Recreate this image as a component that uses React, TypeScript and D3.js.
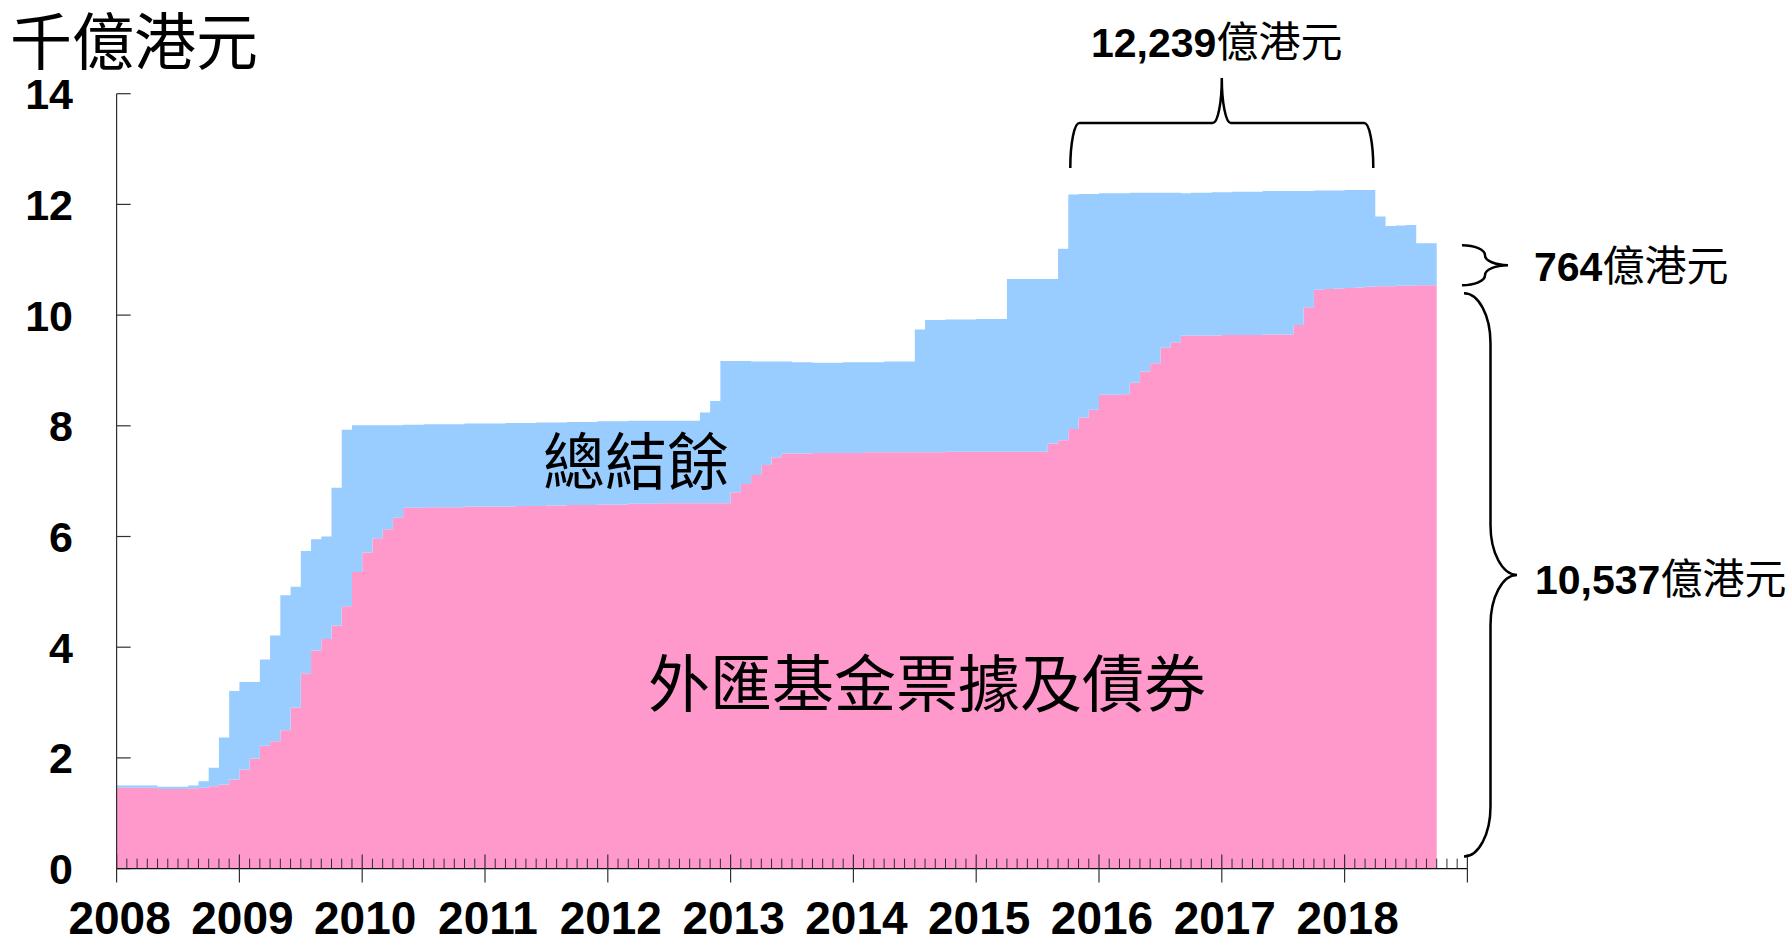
import React from 'react';
import * as d3 from 'd3';

// ---------------- DATA ----------------
// Monthly, Jan 2008 – Sep 2018, HK$ thousand billion (千億港元)
const firstYear = 2008;
const lastYear = 2019;
const yearLabels = ['2008', '2009', '2010', '2011', '2012', '2013', '2014', '2015', '2016', '2017', '2018'];
const yTickValues = [0, 2, 4, 6, 8, 10, 12, 14];

// 外匯基金票據及債券 (Exchange Fund Bills and Notes)
const efbn = [
  1.46, 1.46, 1.46, 1.46, 1.44, 1.44, 1.44, 1.45, 1.46, 1.49, 1.52, 1.61,
  1.79, 1.99, 2.22, 2.30, 2.50, 2.91, 3.53, 3.94, 4.15, 4.39, 4.74, 5.36,
  5.71, 5.97, 6.13, 6.34, 6.52, 6.52, 6.53, 6.53, 6.53, 6.53, 6.54, 6.54,
  6.54, 6.54, 6.54, 6.55, 6.55, 6.55, 6.56, 6.56, 6.57, 6.57, 6.57, 6.58,
  6.58, 6.58, 6.59, 6.59, 6.59, 6.60, 6.60, 6.60, 6.60, 6.60, 6.60, 6.60,
  6.80, 6.95, 7.11, 7.29, 7.43, 7.50, 7.50, 7.50, 7.51, 7.51, 7.51, 7.51,
  7.51, 7.52, 7.52, 7.52, 7.52, 7.52, 7.52, 7.52, 7.52, 7.53, 7.53, 7.53,
  7.53, 7.53, 7.53, 7.53, 7.53, 7.53, 7.53, 7.68, 7.74, 7.94, 8.15, 8.29,
  8.56, 8.56, 8.57, 8.78, 8.98, 9.13, 9.41, 9.51, 9.63, 9.63, 9.63, 9.63,
  9.64, 9.64, 9.64, 9.64, 9.65, 9.65, 9.65, 9.82, 10.14, 10.46, 10.47, 10.48,
  10.49, 10.50, 10.51, 10.52, 10.52, 10.53, 10.53, 10.54, 10.54,
];

// 總結餘 (Aggregate Balance)
const aggregateBalance = [
  0.04, 0.04, 0.04, 0.04, 0.04, 0.04, 0.04, 0.05, 0.12, 0.33, 0.85, 1.60,
  1.58, 1.38, 1.56, 1.91, 2.44, 2.18, 2.21, 2.01, 1.85, 2.49, 3.19, 2.65,
  2.30, 2.04, 1.88, 1.67, 1.50, 1.50, 1.50, 1.50, 1.50, 1.50, 1.50, 1.50,
  1.50, 1.50, 1.51, 1.50, 1.50, 1.51, 1.50, 1.50, 1.50, 1.50, 1.50, 1.50,
  1.50, 1.50, 1.50, 1.50, 1.50, 1.49, 1.49, 1.49, 1.49, 1.64, 1.85, 2.57,
  2.37, 2.22, 2.05, 1.87, 1.73, 1.66, 1.65, 1.65, 1.63, 1.63, 1.63, 1.64,
  1.64, 1.63, 1.63, 1.64, 1.64, 1.64, 2.22, 2.39, 2.39, 2.39, 2.39, 2.39,
  2.40, 2.40, 2.40, 3.12, 3.12, 3.12, 3.12, 2.97, 3.46, 4.24, 4.04, 3.90,
  3.64, 3.64, 3.63, 3.43, 3.23, 3.08, 2.80, 2.70, 2.57, 2.58, 2.58, 2.59,
  2.58, 2.59, 2.59, 2.59, 2.59, 2.59, 2.59, 2.42, 2.10, 1.79, 1.78, 1.77,
  1.77, 1.76, 1.75, 1.26, 1.09, 1.09, 1.10, 0.76, 0.76,
];

// annotation texts
const unitLabel = '千億港元';
const abLabel = '總結餘';
const efbnLabel = '外匯基金票據及債券';
const peakNumber = '12,239';
const abNowNumber = '764';
const efbnNowNumber = '10,537';
const unitSuffix = '億港元';
const peakStartMonth = 93; // Oct 2015
const peakEndMonth = 123; // Apr 2018

// ---------------- STYLE / LAYOUT ----------------
const W = 1792;
const H = 943;
const PINK = '#FF99CC';
const BLUE = '#99CCFF';
const AXIS = '#303030';
const LATIN = '"Liberation Sans", Arial, sans-serif';
const CJK = '"Noto Sans CJK TC", "Noto Sans CJK SC", sans-serif';

const plotLeft = 116.6;
const plotRight = 1467.4;
const plotTop = 93.7;
const plotBottom = 868.6;

function braceRight(x0: number, yTop: number, yBot: number, w: number, a: number) {
  const xm = x0 + w / 2;
  const xt = x0 + w;
  const ym = (yTop + yBot) / 2;
  const rx = w / 2;
  return [
    `M${x0},${yTop}`,
    `A${rx},${a} 0 0 1 ${xm},${yTop + a}`,
    `L${xm},${ym - a}`,
    `A${rx},${a} 0 0 0 ${xt},${ym}`,
    `A${rx},${a} 0 0 0 ${xm},${ym + a}`,
    `L${xm},${yBot - a}`,
    `A${rx},${a} 0 0 1 ${x0},${yBot}`,
  ].join(' ');
}

function braceUp(xL: number, xR: number, yBase: number, h: number, a: number) {
  const xc = (xL + xR) / 2;
  const ym = yBase - h / 2;
  const yt = yBase - h;
  const ry = h / 2;
  return [
    `M${xL},${yBase}`,
    `A${a},${ry} 0 0 1 ${xL + a},${ym}`,
    `L${xc - a},${ym}`,
    `A${a},${ry} 0 0 0 ${xc},${yt}`,
    `A${a},${ry} 0 0 0 ${xc + a},${ym}`,
    `L${xR - a},${ym}`,
    `A${a},${ry} 0 0 1 ${xR},${yBase}`,
  ].join(' ');
}

export default function App() {
  const totalMonths = (lastYear - firstYear) * 12;
  const x = d3.scaleLinear().domain([0, totalMonths]).range([plotLeft, plotRight]);
  const y = d3.scaleLinear().domain([0, 14]).range([plotBottom, plotTop]);

  const rows = efbn.map((v, i) => ({ m: i, efbn: v, ab: aggregateBalance[i] }));
  // closing point so the last month step has width
  const last = rows[rows.length - 1];
  const rowsExt = [...rows, { m: rows.length, efbn: last.efbn, ab: last.ab }];

  const stack = d3.stack<any>().keys(['efbn', 'ab']);
  const series = stack(rowsExt as any);

  const area = d3
    .area<any>()
    .curve(d3.curveStepAfter)
    .x((d: any) => x(d.data.m))
    .y0((d: any) => y(d[0]))
    .y1((d: any) => y(d[1]));

  const colors = [PINK, BLUE];

  const yearTicks = d3.range(0, totalMonths + 1, 12);
  const monthTicks = d3.range(0, totalMonths + 1).filter((m) => m % 12 !== 0);

  const lastE = efbn[efbn.length - 1];
  const lastT = lastE + aggregateBalance[aggregateBalance.length - 1];
  const braceX = 1464;

  return (
    <svg
      width={W}
      height={H}
      viewBox={`0 0 ${W} ${H}`}
      style={{ position: 'absolute', left: 0, top: 0, background: '#fff' }}
    >
      <rect x={0} y={0} width={W} height={H} fill="#fff" />

      {series.map((s: any, k: number) => (
        <path key={k} d={area(s) || ''} fill={colors[k]} stroke="none" />
      ))}

      {/* y axis */}
      <line x1={plotLeft} x2={plotLeft} y1={plotTop} y2={plotBottom} stroke={AXIS} strokeWidth={1.2} />
      {yTickValues.map((v) => (
        <g key={v}>
          <line x1={plotLeft} x2={plotLeft + 14} y1={y(v)} y2={y(v)} stroke={AXIS} strokeWidth={1.2} />
          <text
            x={73}
            y={y(v)}
            dy="0.36em"
            textAnchor="end"
            fontFamily={LATIN}
            fontWeight="bold"
            fontSize={43}
            fill="#000"
          >
            {v}
          </text>
        </g>
      ))}

      {/* x axis */}
      <line x1={plotLeft} x2={plotRight} y1={plotBottom} y2={plotBottom} stroke="#111" strokeWidth={1.3} />
      {monthTicks.map((m) => (
        <line key={m} x1={x(m)} x2={x(m)} y1={plotBottom} y2={plotBottom - 10} stroke={AXIS} strokeWidth={1} />
      ))}
      {yearTicks.map((m) => (
        <line key={m} x1={x(m)} x2={x(m)} y1={plotBottom - 14} y2={plotBottom + 14} stroke={AXIS} strokeWidth={1.2} />
      ))}
      {yearLabels.map((lab, i) => (
        <text
          key={lab}
          x={x(i * 12) + 3}
          y={934}
          textAnchor="middle"
          fontFamily={LATIN}
          fontWeight="bold"
          fontSize={46}
          fill="#000"
        >
          {lab}
        </text>
      ))}

      {/* unit */}
      <text x={10} y={65} fontFamily={CJK} fontSize={62} fill="#000">
        {unitLabel}
      </text>

      {/* series labels */}
      <text x={636} y={485} textAnchor="middle" fontFamily={CJK} fontSize={62} fill="#000">
        {abLabel}
      </text>
      <text x={927} y={707} textAnchor="middle" fontFamily={CJK} fontSize={62} fill="#000">
        {efbnLabel}
      </text>

      {/* peak brace */}
      <path d={braceUp(x(peakStartMonth) + 2, x(peakEndMonth) - 2, 168, 90, 9)} fill="none" stroke="#000" strokeWidth={2.5} />
      <text x={1091} y={57} fontFamily={LATIN} fontWeight="bold" fontSize={41} fill="#000">
        {peakNumber}
        <tspan fontFamily={CJK} fontWeight="normal" fontSize={42}>
          {unitSuffix}
        </tspan>
      </text>

      {/* aggregate balance brace */}
      <path d={braceRight(braceX - 2, y(lastT) + 2, y(lastE), 46, 10)} fill="none" stroke="#000" strokeWidth={2.5} />
      <text x={1534} y={281} fontFamily={LATIN} fontWeight="bold" fontSize={41} fill="#000">
        {abNowNumber}
        <tspan fontFamily={CJK} fontWeight="normal" fontSize={42}>
          {unitSuffix}
        </tspan>
      </text>

      {/* EFBN brace */}
      <path d={braceRight(braceX, y(lastE) + 8, y(0) - 12, 53, 50)} fill="none" stroke="#000" strokeWidth={2.5} />
      <text x={1535} y={594} fontFamily={LATIN} fontWeight="bold" fontSize={41} fill="#000">
        {efbnNowNumber}
        <tspan fontFamily={CJK} fontWeight="normal" fontSize={42}>
          {unitSuffix}
        </tspan>
      </text>
    </svg>
  );
}
